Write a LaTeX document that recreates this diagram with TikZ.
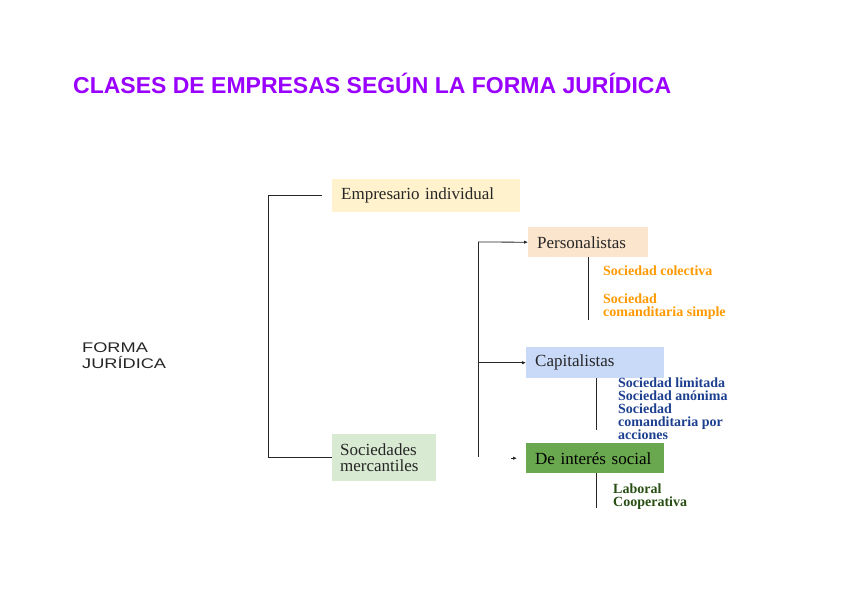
\documentclass[tikz,border=0pt]{standalone}
\usepackage{fontspec}
\setmainfont{Liberation Serif}
\newfontfamily\arialfont{Liberation Sans}
\newfontfamily\widearial[FakeStretch=1.3]{Liberation Sans}
\usepackage{xcolor}
\usetikzlibrary{arrows.meta, positioning}

\definecolor{titlepurple}{HTML}{9900FF}
\definecolor{creamfill}{HTML}{FFF2CC}
\definecolor{peachfill}{HTML}{FCE5CD}
\definecolor{bluefill}{HTML}{C9DAF8}
\definecolor{greenfill}{HTML}{6AA84F}
\definecolor{mintfill}{HTML}{D9EAD3}
\definecolor{orangetext}{HTML}{FF9900}
\definecolor{bluetext}{HTML}{1C3F8F}
\definecolor{greentext}{HTML}{274E13}

\begin{document}
\begin{tikzpicture}[
    x=1pt, y=-1pt,
    box/.style={anchor=north west, inner xsep=9pt, inner ysep=0pt, align=left, font=\fontsize{17}{16}\selectfont, text=black!85},
    item/.style={anchor=north west, inner sep=0pt, align=left, font=\fontsize{14}{13}\selectfont\bfseries},
    line/.style={black!85, line width=0.8pt},
    arrow/.style={line, -{Latex[length=4pt, width=3.5pt]}}
]
    \useasboundingbox (0,0) rectangle (848,600);

    \node[anchor=base west, inner sep=0pt, text=titlepurple, font=\arialfont\bfseries\fontsize{23}{26}\selectfont] (title) at (73,93) {CLASES DE EMPRESAS SEGÚN LA FORMA JURÍDICA};
    \node[anchor=north west, inner sep=0pt, align=left, text=black!85, font=\widearial\fontsize{14}{15.5}\selectfont] (forma) at (82,343) {FORMA\\JURÍDICA};

    \node[box, fill=creamfill, minimum width=188pt, minimum height=33pt, text width=170pt] (indiv) at (332,179) {Empresario individual};
    \node[box, fill=mintfill, minimum width=104pt, minimum height=47pt, text width=88pt, inner xsep=8pt] (merc) at (332,434) {Sociedades\\mercantiles};
    \node[box, fill=peachfill, minimum width=120pt, minimum height=30pt, text width=102pt] (pers) at (528,227) {Personalistas};
    \node[box, fill=bluefill, minimum width=138pt, minimum height=31pt, text width=120pt] (capit) at (526,347) {Capitalistas};
    \node[box, fill=greenfill, minimum width=138pt, minimum height=30pt, text width=120pt, text=black] (social) at (526,443) {De interés social};

    % subtipos
    \node[item, text=orangetext] (colect) at (603,266) {Sociedad colectiva};
    \node[item, text=orangetext] (simple) at (603,294) {Sociedad\\comanditaria simple};
    \node[item, text=bluetext, font=\fontsize{14}{12.8}\selectfont\bfseries] (capitems) at (618,378) {Sociedad limitada\\Sociedad anónima\\Sociedad\\comanditaria por\\acciones};
    \node[item, text=greentext] (socitems) at (613,484) {Laboral\\Cooperativa};

    % llaves
    \coordinate (join) at (268,356);
    \coordinate (spinetop) at (478,242);
    \coordinate (spinebot) at (478,457);

    \draw[line, shorten <=10pt] (indiv.west) -| (join);
    \draw[line] (join) |- (merc.west);
    \draw[line] (spinetop) -- (spinebot);
    \draw[arrow] (spinetop) -- (pers.west);
    \draw[arrow] (spinetop |- capit.west) -- (capit.west);
    \draw[arrow] ([xshift=-15pt]social.west) -- ([xshift=-9pt]social.west);

    \draw[line] (pers.south) -- ++(0,63);
    \draw[line] ([xshift=1pt]capit.south) -- ++(0,52);
    \draw[line] ([xshift=1pt]social.south) -- ++(0,35);
\end{tikzpicture}
\end{document}
